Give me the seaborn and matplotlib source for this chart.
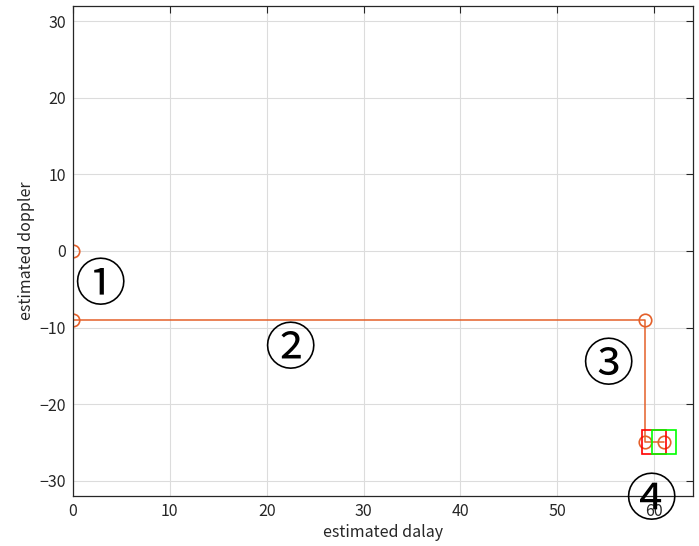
import matplotlib
matplotlib.use("Agg")
import matplotlib.pyplot as plt
import seaborn as sns
import pandas as pd

sns.set_theme(style="whitegrid")
plt.rcParams['font.family'] = ['Noto Sans CJK JP', 'DejaVu Sans']
plt.rcParams['axes.unicode_minus'] = True

path_delay = [0, 0, 59, 59, 61]
path_doppler = [0, -9, -9, -25, -25]
box_delay = [60, 61]
box_doppler = [-25, -25]
box_colors = ['#FF0000', '#00FF00']
labels = ['①', '②', '③', '④']
label_x = [2.8, 22.4, 55.2, 59.7]
label_y = [-4.6, -13.0, -15.1, -32.7]

df = pd.DataFrame({'delay': path_delay, 'doppler': path_doppler})

fig = plt.figure(figsize=(6.99, 5.46), dpi=100)
ax = fig.add_axes([0.1044, 0.0916, 0.887, 0.8974])
ax.set_facecolor('white')

sns.lineplot(data=df, x='delay', y='doppler', sort=False, estimator=None, ax=ax,
             color='#E4602A', linewidth=1.1, marker='o', markersize=9,
             markerfacecolor='none', markeredgecolor='#E4602A', markeredgewidth=1.2)

for bx, by, bc in zip(box_delay, box_doppler, box_colors):
    ax.plot([bx], [by], marker='s', markersize=17, markerfacecolor='none',
            markeredgecolor=bc, markeredgewidth=1.2, linestyle='none')

for t, lx, ly in zip(labels, label_x, label_y):
    ax.text(lx, ly, t, fontsize=37, ha='center', va='center', color='black',
            family=['Noto Sans CJK JP', 'DejaVu Sans'], clip_on=False)

ax.set_xlim(0, 64)
ax.set_ylim(-32, 32)
ax.set_xticks([0, 10, 20, 30, 40, 50, 60])
ax.set_yticks([-30, -20, -10, 0, 10, 20, 30])
ax.grid(True, color='#DCDCDC', linewidth=0.8)
ax.tick_params(direction='in', length=5, width=0.8, colors='#262626', labelsize=11.5,
               top=True, right=True, labelcolor='#262626', pad=5)
for s in ax.spines.values():
    s.set_visible(True)
    s.set_color('#262626')
    s.set_linewidth(0.9)
ax.set_xlabel('estimated dalay', fontsize=11.5, color='#262626', labelpad=3)
ax.set_ylabel('estimated doppler', fontsize=11.5, color='#262626', labelpad=3)

fig.savefig('out.png', dpi=100)
